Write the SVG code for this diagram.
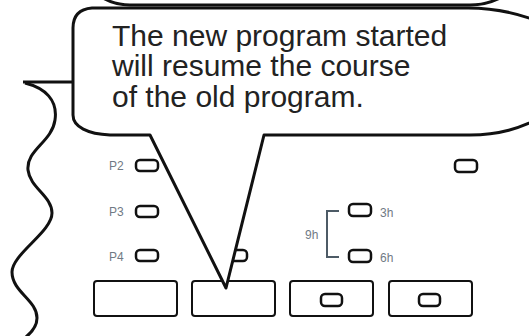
<svg xmlns="http://www.w3.org/2000/svg" width="529" height="336" viewBox="0 0 529 336">
<style>
.btn{fill:#fff;stroke:#111;stroke-width:2.5}
.box{fill:#fff;stroke:#111;stroke-width:2}
.lbl{font-family:"Liberation Sans",Arial,sans-serif;font-size:12px;fill:#707a85}
.big{font-family:"Liberation Sans",Arial,sans-serif;font-size:30px;fill:#222}
.ln{fill:none;stroke:#111;stroke-width:3}
</style>
<rect width="529" height="336" fill="#fff"/>
<g id="panel">
<g id="p2"><text class="lbl" x="109" y="170">P2</text><rect class="btn" x="136" y="160" width="22" height="11" rx="4"/></g>
<g id="p3"><text class="lbl" x="109" y="216">P3</text><rect class="btn" x="136" y="206" width="22" height="11" rx="4"/></g>
<g id="p4"><text class="lbl" x="109" y="261">P4</text><rect class="btn" x="136" y="250" width="22" height="11" rx="4"/></g>
<g id="p4b"><rect class="btn" x="225" y="250" width="22" height="11" rx="4"/></g>
<g id="topright"><rect class="btn" x="455" y="160" width="22" height="12" rx="4"/></g>
<g id="h3"><rect class="btn" x="349" y="204" width="22" height="12" rx="4"/><text class="lbl" x="380" y="217">3h</text></g>
<g id="h6"><rect class="btn" x="349" y="250" width="22" height="12" rx="4"/><text class="lbl" x="380" y="262">6h</text></g>
<g id="h9"><text class="lbl" x="305" y="239">9h</text><path d="M339,211 H327 V257 H339" fill="none" stroke="#4d5b66" stroke-width="2"/></g>
<g id="b1"><rect class="box" x="94" y="281" width="83" height="35" rx="3"/></g>
<g id="b2"><rect class="box" x="192" y="281" width="83" height="35" rx="3"/></g>
<g id="b3"><rect class="box" x="290" y="281" width="83" height="35" rx="3"/><rect class="btn" x="321" y="294" width="21" height="12" rx="4"/></g>
<g id="b4"><rect class="box" x="389" y="281" width="83" height="35" rx="3"/><rect class="btn" x="419" y="294" width="21" height="12" rx="4"/></g>
</g>
<g id="connectors">
<path class="ln" d="M23,82 H74"/>
<path class="ln" d="M25,83 C45,88 58,100 55,120 C52,142 26,150 28,170 C30,188 52,196 52,213 C52,232 12,254 12,272 C12,292 37,300 37,318 C37,326 32,332 26,337"/>
</g>
<g id="upper">
<path d="M103,-2 C110,2 118,5 130,5 H470 C482,5 492,2 500,-2" fill="#fff" stroke="#111" stroke-width="3"/>
</g>
<g id="bubble">
<path d="M92,8 H468 C492,8 515,12 540,22 V118 C520,128 500,135 470,135 H264 L226,288 L150,135 H110 C88,134 73,127 73,115 V28 C73,15 80,9 92,8 Z" fill="#fff" stroke="#111" stroke-width="3" stroke-linejoin="round"/>
<text class="big" x="112" y="46">The new program started</text>
<text class="big" x="112" y="76">will resume the course</text>
<text class="big" x="112" y="107">of the old program.</text>
</g>
</svg>
